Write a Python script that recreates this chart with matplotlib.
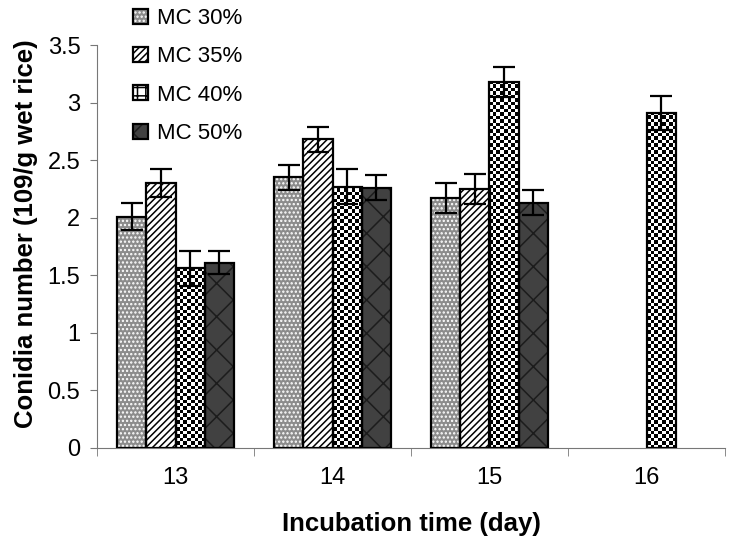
import matplotlib.pyplot as plt
import numpy as np
from matplotlib.legend_handler import HandlerTuple
from matplotlib.patches import Patch

plt.rcParams["font.family"] = ["Liberation Sans", "DejaVu Sans"]
plt.rcParams["hatch.linewidth"] = 1.1

days = ["13", "14", "15", "16"]
series = ["MC 30%", "MC 35%", "MC 40%", "MC 50%"]
mc30 = [2.01, 2.35, 2.17, np.nan]
mc35 = [2.30, 2.68, 2.25, np.nan]
mc40 = [1.56, 2.27, 3.18, 2.91]
mc50 = [1.61, 2.26, 2.13, np.nan]
err30 = [0.12, 0.11, 0.13, 0]
err35 = [0.12, 0.11, 0.13, 0]
err40 = [0.15, 0.15, 0.13, 0.15]
err50 = [0.10, 0.11, 0.11, 0]

values = [mc30, mc35, mc40, mc50]
errors = [err30, err35, err40, err50]

# face colour, hatch colour, hatch pattern (None -> checkerboard image)
styles = [
    ("#8c8c8c", "white", "...."),
    ("white", "black", "/////"),
    ("white", "black", None),
    ("#414141", "#1c1c1c", "x"),
]

fig = plt.figure(figsize=(7.32, 5.48), dpi=100)
ax = fig.add_axes([97 / 732, 1 - 448 / 548, 628 / 732, 403 / 548])

x = np.arange(len(days))
width = 0.185
cell = 0.03  # checker square height in data units
handles = []
for i, (vals, errs, (face, hcol, hatch)) in enumerate(zip(values, errors, styles)):
    pos = x + (i - 1.5) * width
    vals = np.array(vals, dtype=float)
    mask = ~np.isnan(vals)
    fill = ax.bar(pos[mask], vals[mask], width, color=face, edgecolor=hcol,
                  hatch=hatch, linewidth=0, zorder=2)
    if hatch is None:
        for rect in fill:
            x0 = rect.get_x()
            h = rect.get_height()
            nrows = int(np.ceil(h / cell))
            board = (np.add.outer(np.arange(nrows), np.arange(8)) % 2).astype(float)
            im = ax.imshow(board, cmap="gray_r", vmin=0, vmax=1,
                           extent=(x0, x0 + width, 0, nrows * cell),
                           origin="lower", interpolation="nearest",
                           aspect="auto", zorder=2.5)
            im.set_clip_path(rect)
    outline = ax.bar(pos[mask], vals[mask], width, fill=False,
                     edgecolor="black", linewidth=1.6, zorder=3)
    ax.errorbar(pos[mask], vals[mask], yerr=np.array(errs)[mask], fmt="none",
                ecolor="black", elinewidth=1.6, capsize=8, capthick=1.6, zorder=4)
    if hatch is None:
        handles.append(Patch(facecolor="white", edgecolor="black", hatch="++",
                             linewidth=1.6))
    else:
        handles.append((fill[0], outline[0]))

ax.set_xlim(-0.5, 3.5)
ax.set_ylim(0, 3.5)
ax.set_yticks(np.arange(0, 3.51, 0.5))
ax.set_yticklabels(["0", "0.5", "1", "1.5", "2", "2.5", "3", "3.5"])
ax.set_xticks(x)
ax.set_xticklabels(days)
ax.set_xticks(np.arange(-0.5, 3.6, 1), minor=True)
ax.tick_params(axis="x", which="major", length=0, pad=14, labelsize=17)
ax.tick_params(axis="x", which="minor", length=6, color="#777777")
ax.tick_params(axis="y", length=5, color="#777777", labelsize=17, pad=7)

for side in ["top", "right"]:
    ax.spines[side].set_visible(False)
ax.spines["left"].set_color("#777777")
ax.spines["bottom"].set_color("#777777")

ax.set_xlabel("Incubation time (day)", fontsize=18.5, fontweight="bold", labelpad=16)
ax.set_ylabel("Conidia number (109/g wet rice)", fontsize=18.5, fontweight="bold")
ax.yaxis.set_label_coords(-0.094, 0.531)

ax.legend(handles, series, handler_map={tuple: HandlerTuple(ndivide=1)},
          loc="upper left", bbox_to_anchor=(36 / 628, 1.092), frameon=False,
          fontsize=16, handlelength=0.68, handleheight=0.68, labelspacing=0.78,
          handletextpad=0.4, borderpad=0, borderaxespad=0)

fig.savefig("out.png", dpi=100)
